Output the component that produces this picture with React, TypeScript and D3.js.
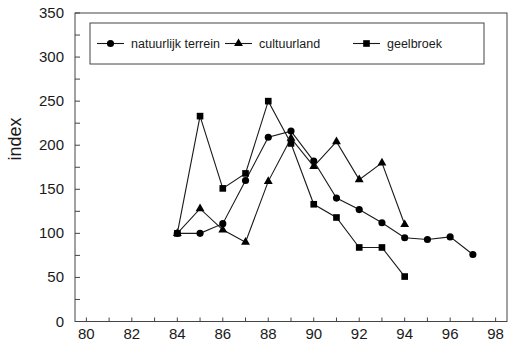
import React, { useEffect, useRef } from 'react';
import * as d3 from 'd3';

// values
const natuurYears = [84, 85, 86, 87, 88, 89, 90, 91, 92, 93, 94, 95, 96, 97];
const natuurValues = [100, 100, 111, 160, 209, 216, 182, 140, 127, 112, 95, 93, 96, 76];
const cultuurYears = [84, 85, 86, 87, 88, 89, 90, 91, 92, 93, 94];
const cultuurValues = [100, 128, 104, 90, 159, 208, 176, 204, 161, 180, 110];
const geelYears = [84, 85, 86, 87, 88, 89, 90, 91, 92, 93, 94];
const geelValues = [100, 233, 151, 168, 250, 202, 133, 118, 84, 84, 51];

const xTickLabels = [80, 82, 84, 86, 88, 90, 92, 94, 96, 98];
const yTickLabels = [0, 50, 100, 150, 200, 250, 300, 350];
const seriesNames = ['natuurlijk terrein', 'cultuurland', 'geelbroek'];

const App = () => {
    const svgRef = useRef<SVGSVGElement>(null);

    useEffect(() => {
        const svg = d3.select(svgRef.current);
        svg.selectAll('*').remove();

        const font = '"Liberation Sans", Arial, sans-serif';
        const ink = '#1a1a1a';
        const left = 75, right = 507, top = 13, bottom = 321.5;

        const x = d3.scaleLinear().domain([79.5, 98.5]).range([left, right]);
        const y = d3.scaleLinear().domain([0, 350]).range([bottom, top]);

        // frame
        svg.append('rect')
            .attr('x', left).attr('y', top)
            .attr('width', right - left).attr('height', bottom - top)
            .attr('fill', 'none').attr('stroke', '#444').attr('stroke-width', 1);

        // x ticks, every year, pointing in
        const g = svg.append('g');
        d3.range(80, 99).forEach((yr) => {
            g.append('line')
                .attr('x1', x(yr)).attr('x2', x(yr))
                .attr('y1', bottom).attr('y2', bottom - 4)
                .attr('stroke', '#444');
        });
        xTickLabels.forEach((t) => {
            g.append('text')
                .attr('x', x(t)).attr('y', bottom + 17)
                .attr('text-anchor', 'middle')
                .style('font-family', font).style('font-size', '15px')
                .attr('fill', ink)
                .text(t);
        });

        // y ticks, every 25, pointing in
        d3.range(0, 351, 25).forEach((v) => {
            g.append('line')
                .attr('x1', left).attr('x2', left + 5)
                .attr('y1', y(v)).attr('y2', y(v))
                .attr('stroke', '#444');
        });
        yTickLabels.forEach((t) => {
            g.append('text')
                .attr('x', left - 11).attr('y', y(t) + 5)
                .attr('text-anchor', 'end')
                .style('font-family', font).style('font-size', '15px')
                .attr('fill', ink)
                .text(t);
        });

        svg.append('text')
            .attr('transform', `translate(21, 139) rotate(-90)`)
            .attr('text-anchor', 'middle')
            .style('font-family', font).style('font-size', '18px')
            .attr('fill', ink)
            .text('index');

        const symbols = [
            d3.symbol().type(d3.symbolCircle).size(40),
            d3.symbol().type(d3.symbolTriangle).size(34),
            d3.symbol().type(d3.symbolSquare).size(44),
        ];

        const series = [
            { years: natuurYears, values: natuurValues },
            { years: cultuurYears, values: cultuurValues },
            { years: geelYears, values: geelValues },
        ];

        const line = d3.line<[number, number]>()
            .x((d) => x(d[0]))
            .y((d) => y(d[1]));

        series.forEach((s, i) => {
            const pts: [number, number][] = s.years.map((yr, j) => [yr, s.values[j]]);
            svg.append('path')
                .datum(pts)
                .attr('fill', 'none')
                .attr('stroke', ink)
                .attr('stroke-width', 1.1)
                .attr('d', line);
            svg.append('g')
                .selectAll('path')
                .data(pts)
                .join('path')
                .attr('transform', (d) => `translate(${x(d[0])},${y(d[1])})`)
                .attr('d', symbols[i]())
                .attr('fill', '#000');
        });

        // legend
        const lg = svg.append('g');
        lg.append('rect')
            .attr('x', 90).attr('y', 23)
            .attr('width', 394).attr('height', 41)
            .attr('fill', '#fff').attr('stroke', '#444');
        const itemX = [97, 225, 353];
        seriesNames.forEach((name, i) => {
            const ly = 43.5;
            lg.append('line')
                .attr('x1', itemX[i]).attr('x2', itemX[i] + 27)
                .attr('y1', ly).attr('y2', ly)
                .attr('stroke', ink).attr('stroke-width', 1.1);
            lg.append('path')
                .attr('transform', `translate(${itemX[i] + 13.5},${ly})`)
                .attr('d', symbols[i]())
                .attr('fill', '#000');
            lg.append('text')
                .attr('x', itemX[i] + 34).attr('y', ly + 4.5)
                .style('font-family', font).style('font-size', '12.5px')
                .attr('fill', ink)
                .text(name);
        });
    }, []);

    return (
        <svg ref={svgRef} width={514} height={346}
            style={{ position: 'absolute', left: 0, top: 0, background: '#fff' }}></svg>
    );
};

export default App;
